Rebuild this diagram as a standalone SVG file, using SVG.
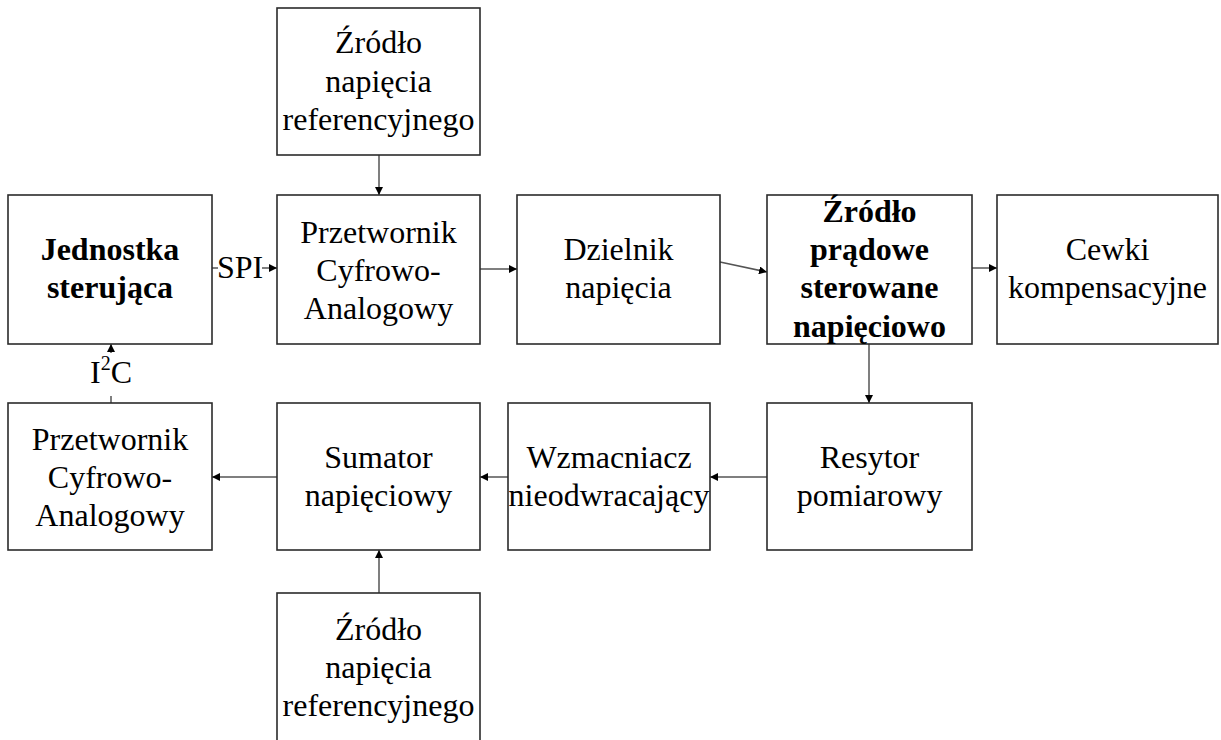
<svg xmlns="http://www.w3.org/2000/svg" width="1221" height="740" viewBox="0 0 1221 740">
  <style>
    .box { fill: #ffffff; stroke: #2b2b2b; stroke-width: 1.6; }
    text { font-family: 'Liberation Serif', serif; font-size: 32px; fill: #000; text-anchor: middle; }
    .b { font-weight: bold; }
    .wire { fill: none; stroke: #555; stroke-width: 1.5; }
  </style>
  <defs>
    <marker id="arr" viewBox="0 0 10 10" refX="10" refY="5" markerWidth="8" markerHeight="8" markerUnits="userSpaceOnUse" orient="auto">
      <path d="M0,0 L10,5 L0,10 z" fill="#000"/>
    </marker>
  </defs>
  <rect width="1221" height="740" fill="#ffffff"/>

  <g id="connectors">
    <path class="wire" d="M379,155 L379,195" marker-end="url(#arr)"/>
    <path class="wire" d="M212,268 L218,268"/>
    <path class="wire" d="M262,268 L277,268" marker-end="url(#arr)"/>
    <path class="wire" d="M480,269 L517,269" marker-end="url(#arr)"/>
    <path class="wire" d="M720,262 L767,272" marker-end="url(#arr)"/>
    <path class="wire" d="M972,268 L997,268" marker-end="url(#arr)"/>
    <path class="wire" d="M869,344 L869,403" marker-end="url(#arr)"/>
    <path class="wire" d="M767,477 L710,477" marker-end="url(#arr)"/>
    <path class="wire" d="M508,477 L480,477" marker-end="url(#arr)"/>
    <path class="wire" d="M277,477 L212,477" marker-end="url(#arr)"/>
    <path class="wire" d="M379,593 L379,550" marker-end="url(#arr)"/>
    <path class="wire" d="M111,403 L111,396"/>
    <path class="wire" d="M111,353 L111,344" marker-end="url(#arr)"/>
    <text x="240" y="278">SPI</text>
    <text x="111" y="383">I<tspan font-size="20" dy="-13">2</tspan><tspan dy="13">C</tspan></text>
  </g>

  <g id="ref-top">
    <rect class="box" x="277" y="8" width="203" height="147"/>
    <text x="378.5" y="53">Źródło</text>
    <text x="378.5" y="92">napięcia</text>
    <text x="378.5" y="130">referencyjnego</text>
  </g>

  <g id="control-unit">
    <rect class="box" x="8" y="195" width="204" height="149"/>
    <text class="b" x="110" y="260">Jednostka</text>
    <text class="b" x="110" y="298">sterująca</text>
  </g>

  <g id="dac">
    <rect class="box" x="277" y="195" width="203" height="149"/>
    <text x="378.5" y="243">Przetwornik</text>
    <text x="378.5" y="281">Cyfrowo-</text>
    <text x="378.5" y="319">Analogowy</text>
  </g>

  <g id="divider">
    <rect class="box" x="517" y="195" width="203" height="149"/>
    <text x="618.5" y="260">Dzielnik</text>
    <text x="618.5" y="298">napięcia</text>
  </g>

  <g id="current-source">
    <rect class="box" x="767" y="195" width="205" height="149"/>
    <text class="b" x="869.5" y="222">Źródło</text>
    <text class="b" x="869.5" y="260">prądowe</text>
    <text class="b" x="869.5" y="298">sterowane</text>
    <text class="b" x="869.5" y="337">napięciowo</text>
  </g>

  <g id="coils">
    <rect class="box" x="997" y="195" width="221" height="149"/>
    <text x="1107.5" y="260">Cewki</text>
    <text x="1107.5" y="298">kompensacyjne</text>
  </g>

  <g id="adc">
    <rect class="box" x="8" y="403" width="204" height="147"/>
    <text x="110" y="450">Przetwornik</text>
    <text x="110" y="488">Cyfrowo-</text>
    <text x="110" y="526">Analogowy</text>
  </g>

  <g id="summator">
    <rect class="box" x="277" y="403" width="203" height="147"/>
    <text x="378.5" y="468">Sumator</text>
    <text x="378.5" y="506">napięciowy</text>
  </g>

  <g id="amplifier">
    <rect class="box" x="508" y="403" width="202" height="147"/>
    <text x="609" y="468">Wzmacniacz</text>
    <text x="609" y="506">nieodwracający</text>
  </g>

  <g id="shunt">
    <rect class="box" x="767" y="403" width="205" height="147"/>
    <text x="869.5" y="468">Resytor</text>
    <text x="869.5" y="506">pomiarowy</text>
  </g>

  <g id="ref-bottom">
    <rect class="box" x="277" y="593" width="203" height="160"/>
    <text x="378.5" y="640">Źródło</text>
    <text x="378.5" y="678">napięcia</text>
    <text x="378.5" y="716">referencyjnego</text>
  </g>
</svg>
